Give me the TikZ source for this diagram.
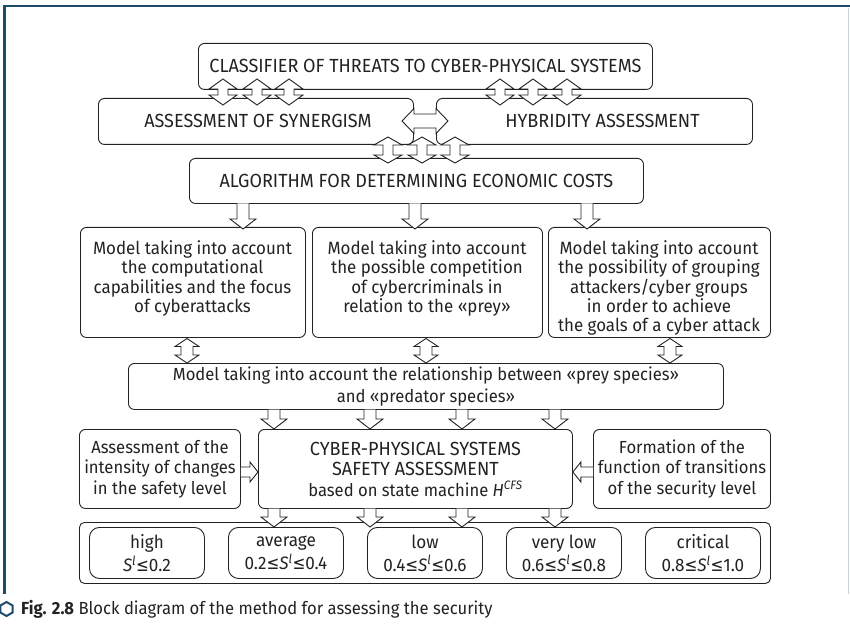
\documentclass[tikz,border=0pt]{standalone}
\usepackage{fontspec}
\setmainfont{Fira Sans}[FakeStretch=0.95]
\newfontfamily\symf{DejaVu Sans}[FakeStretch=0.85]
\usetikzlibrary{calc,shapes.geometric}
\definecolor{frameblue}{HTML}{1C4B6C}
\definecolor{framegray}{HTML}{C8D2DA}
\definecolor{ink}{HTML}{222222}
\newcommand\leqs{{\symf ≤}}
\newcommand\Sl{\textit{S}\textsuperscript{\textit{l}}}
\newcommand\fcaps{\fontsize{19bp}{22bp}\selectfont}
\newcommand\fccaps{\fontsize{19bp}{20.5bp}\selectfont}
\newcommand\fmod{\fontsize{17.8bp}{19.2bp}\selectfont}
\newcommand\frel{\fontsize{17.5bp}{21.5bp}\selectfont}
\newcommand\fsm{\fontsize{17.5bp}{20.5bp}\selectfont}
\newcommand\flev{\fontsize{18bp}{23bp}\selectfont}
% arrows
\newcommand\ArrDown[2]{\filldraw[blk] ($(#1)+(-6,0)$) -- ($(#2)+(-6,-10)$) -- ($(#2)+(-13,-10)$) -- (#2) -- ($(#2)+(13,-10)$) -- ($(#2)+(6,-10)$) -- ($(#1)+(6,0)$);}
\newcommand\ArrVV[5]{\filldraw[blk] (#1) -- ($(#1)+(#3,#5)$) -- ($(#1)+(#4,#5)$) -- ($(#2)+(#4,-#5)$) -- ($(#2)+(#3,-#5)$) -- (#2) -- ($(#2)+(-#3,-#5)$) -- ($(#2)+(-#4,-#5)$) -- ($(#1)+(-#4,#5)$) -- ($(#1)+(-#3,#5)$) -- cycle;}
\newcommand\ArrHH[5]{\filldraw[blk] (#1) -- ($(#1)+(#5,-#3)$) -- ($(#1)+(#5,-#4)$) -- ($(#2)+(-#5,-#4)$) -- ($(#2)+(-#5,-#3)$) -- (#2) -- ($(#2)+(-#5,#3)$) -- ($(#2)+(-#5,#4)$) -- ($(#1)+(#5,#4)$) -- ($(#1)+(#5,#3)$) -- cycle;}
\newcommand\ArrRight[2]{\filldraw[blk] ($(#1)+(0,-5)$) -- ($(#2)+(-8,-5)$) -- ($(#2)+(-8,-10)$) -- (#2) -- ($(#2)+(-8,10)$) -- ($(#2)+(-8,5)$) -- ($(#1)+(0,5)$);}
\newcommand\ArrLeft[2]{\filldraw[blk] ($(#1)+(0,-5)$) -- ($(#2)+(8,-5)$) -- ($(#2)+(8,-10)$) -- (#2) -- ($(#2)+(8,10)$) -- ($(#2)+(8,5)$) -- ($(#1)+(0,5)$);}
\begin{document}
\begin{tikzpicture}[x=1bp,y=-1bp,
  box/.style={draw=ink, line width=0.9bp, rounded corners=6bp, inner sep=0, anchor=north west, align=center, text=ink},
  lvl/.style={box, rounded corners=10bp, minimum width=115bp, minimum height=51bp, font=\flev},
  txt/.style={inner sep=0, align=center, text=ink},
  blk/.style={draw=ink, fill=white, line width=0.9bp, line join=miter}]
\useasboundingbox (0,0) rectangle (850,624);
% frame
\draw[frameblue, line width=2.6bp] (4.3,594) -- (4.3,6) -- (850,6);
\draw[framegray, line width=1.2bp] (848.6,8) -- (848.6,594);
% top boxes
\node[box, minimum width=454bp, minimum height=46bp, font=\fcaps] (cls) at (198,43) {CLASSIFIER OF THREATS TO CYBER-PHYSICAL SYSTEMS};
\node[box, minimum width=315bp, minimum height=46bp, font=\fcaps] (syn) at (98,98) {\hspace*{4bp}ASSESSMENT OF SYNERGISM};
\node[box, minimum width=316bp, minimum height=46bp, font=\fcaps] (hyb) at (436,98) {\hspace*{16bp}HYBRIDITY ASSESSMENT};
\node[box, minimum width=454bp, minimum height=45bp, font=\fcaps] (alg) at (189,158) {ALGORITHM FOR DETERMINING ECONOMIC COSTS};
% model boxes
\node[box, minimum width=225bp, minimum height=110bp] (m1) at (80,227) {};
\node[box, minimum width=230bp, minimum height=110bp] (m2) at (312,227) {};
\node[box, minimum width=222bp, minimum height=110bp] (m3) at (548,227) {};
\node[txt, font=\fmod] (m1t) at (192.5,278.5) {Model taking into account\\the computational\\capabilities and the focus\\of cyberattacks};
\node[txt, font=\fmod] (m2t) at (427,278.5) {Model taking into account\\the possible competition\\of cybercriminals in\\relation to the «prey»};
\node[txt, font=\fmod] (m3t) at (659,288) {Model taking into account\\the possibility of grouping\\attackers/cyber groups\\in order to achieve\\the goals of a cyber attack};
% relationship
\node[box, minimum width=595bp, minimum height=46bp, font=\frel] (rel) at (128,363) {Model taking into account the relationship between «prey species»\\and «predator species»};
% middle row
\node[box, minimum width=161bp, minimum height=79bp, font=\fsm] (lb) at (79,429) {Assessment of the\\intensity of changes\\in the safety level};
\node[box, minimum width=314bp, minimum height=79bp, font=\fsm] (cb) at (258,429) {{\fccaps CYBER-PHYSICAL SYSTEMS}\\{\fccaps SAFETY ASSESSMENT}\\based on state machine \textit{H}\textsuperscript{\textit{CFS}}};
\node[box, minimum width=177bp, minimum height=79bp, font=\fsm] (rb) at (593,429) {Formation of the\\function of transitions\\of the security level};
% bottom levels
\node[box, rounded corners=5bp, minimum width=691bp, minimum height=61bp] (lev) at (79,522) {};
\node[lvl] (l1) at (89,527) {high\\\Sl\leqs0.2};
\node[lvl] (l2) at (228,527) {average\\0.2\leqs\Sl\leqs0.4};
\node[lvl] (l3) at (367,527) {low\\0.4\leqs\Sl\leqs0.6};
\node[lvl] (l4) at (506,527) {very low\\0.6\leqs\Sl\leqs0.8};
\node[lvl] (l5) at (645,527) {critical\\0.8\leqs\Sl\leqs1.0};
% arrows top groups
\foreach \x [count=\i] in {223,257,289} {
  \coordinate (ga\i) at (\x,79); \coordinate (gb\i) at (\x,105);
  \ArrVV{ga\i}{gb\i}{14}{5}{10}}
\foreach \x [count=\i] in {500,533,567} {
  \coordinate (gc\i) at (\x,79); \coordinate (gd\i) at (\x,105);
  \ArrVV{gc\i}{gd\i}{14}{5}{10}}
\foreach \x [count=\i] in {388,422,455} {
  \coordinate (ge\i) at (\x,137); \coordinate (gf\i) at (\x,163);
  \ArrVV{ge\i}{gf\i}{14}{5}{8}}
\coordinate (hl) at (402,121); \coordinate (hr) at (448,121);
\ArrHH{hl}{hr}{12.5}{7}{12}
% alg -> models
\foreach \x [count=\i] in {243,415,587} {
  \coordinate (da\i) at (\x,203.5); \coordinate (db\i) at (\x,229);
  \ArrDown{da\i}{db\i}}
% models <-> rel
\foreach \x [count=\i] in {187,426,670} {
  \coordinate (ma\i) at (\x,338.5); \coordinate (mb\i) at (\x,363);
  \ArrVV{ma\i}{mb\i}{12}{6}{8}}
% rel -> row, row -> levels
\foreach \x [count=\i] in {274,370,462,555} {
  \coordinate (ra\i) at (\x,409.5); \coordinate (rb\i) at (\x,429);
  \ArrDown{ra\i}{rb\i}
  \coordinate (ca\i) at (\x,508.5); \coordinate (cc\i) at (\x,527);
  \ArrDown{ca\i}{cc\i}}
% side arrows
\coordinate (sl) at (lb.east |- 0,472); \coordinate (slt) at (cb.west |- 0,472);
\ArrRight{sl}{slt}
\coordinate (sr) at (rb.west |- 0,472); \coordinate (srt) at (cb.east |- 0,472);
\ArrLeft{sr}{srt}
% caption
\node[regular polygon, regular polygon sides=6, shape border rotate=30, draw=frameblue, line width=2bp, minimum size=14bp, inner sep=0] (hex) at (6.5,609) {};
\node[anchor=base west, inner sep=0, text=ink, font=\fontsize{17.5bp}{20bp}\selectfont] (cap) at (21,614.5) {\textbf{Fig. 2.8} Block diagram of the method for assessing the security};
\end{tikzpicture}
\end{document}
